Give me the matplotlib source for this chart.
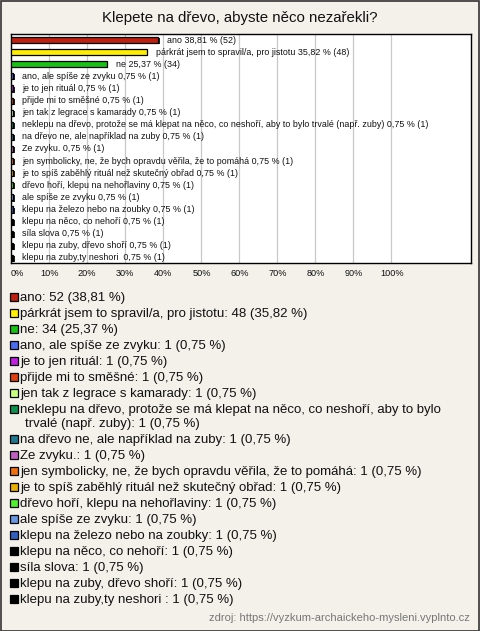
import matplotlib
matplotlib.use("Agg")
import matplotlib.pyplot as plt
from matplotlib.patches import Rectangle
import textwrap

plt.rcParams['font.family'] = ['Liberation Sans', 'DejaVu Sans']

title = "Klepete na dřevo, abyste něco nezařekli?"
categories = [
    "ano",
    "párkrát jsem to spravil/a, pro jistotu",
    "ne",
    "ano, ale spíše ze zvyku",
    "je to jen rituál",
    "přijde mi to směšné",
    "jen tak z legrace s kamarady",
    "neklepu na dřevo, protože se má klepat na něco, co neshoří, aby to bylo trvalé (např. zuby)",
    "na dřevo ne, ale například na zuby",
    "Ze zvyku.",
    "jen symbolicky, ne, že bych opravdu věřila, že to pomáhá",
    "je to spíš zaběhlý rituál než skutečný obřad",
    "dřevo hoří, klepu na nehořlaviny",
    "ale spíše ze zvyku",
    "klepu na železo nebo na zoubky",
    "klepu na něco, co nehoří",
    "síla slova",
    "klepu na zuby, dřevo shoří",
    "klepu na zuby,ty neshori ",
]
counts = [52, 48, 34, 1, 1, 1, 1, 1, 1, 1, 1, 1, 1, 1, 1, 1, 1, 1, 1]
percents = [38.81, 35.82, 25.37, 0.75, 0.75, 0.75, 0.75, 0.75, 0.75, 0.75,
            0.75, 0.75, 0.75, 0.75, 0.75, 0.75, 0.75, 0.75, 0.75]
colors = ["#c02010", "#ffee00", "#18c018", "#4a6cf0", "#c020e0", "#e04010",
          "#c8ff80", "#109050", "#207890", "#c060c0", "#f07010", "#e8b000",
          "#50f030", "#6898e0", "#3060c0", "#000000", "#000000", "#000000", "#000000"]
xticks = [0, 10, 20, 30, 40, 50, 60, 70, 80, 90, 100]
source = "zdroj: https://vyzkum-archaickeho-mysleni.vyplnto.cz"

def fmt(p):
    return f"{p:.2f}".replace(".", ",")

W, H = 480, 631
fig = plt.figure(figsize=(W / 100, H / 100), dpi=100)
fig.patch.set_facecolor("#f3f1ea")
fig.patches.append(Rectangle((0.5 / W, 0.5 / H), 1 - 1.5 / W, 1 - 1.5 / H,
                             transform=fig.transFigure, fill=False,
                             edgecolor="#333333", linewidth=1.2))

fig.text(240 / W, 1 - 18 / H, title, ha="center", va="center", fontsize=10.8, color="#111111")

# axes box
ax_l, ax_r, ax_t, ax_b = 10.5, 471, 34, 263
ax = fig.add_axes([ax_l / W, 1 - ax_b / H, (ax_r - ax_l) / W, (ax_b - ax_t) / H])
ax.set_facecolor("white")
px_per_pct = 3.81
xmax = (ax_r - ax_l) / px_per_pct
ax.set_xlim(0, xmax)
n = len(categories)
ax.set_ylim(n - 1 + 0.42, -0.5)
for s in ax.spines.values():
    s.set_edgecolor("#000000")
    s.set_linewidth(1)
for t in xticks[1:]:
    ax.axvline(t, color="#c8c8c8", linewidth=0.9, zorder=0)

ys = list(range(n))
ax.barh([y + 0.09 for y in ys], percents, left=0.35, height=0.5, color="#222222", zorder=2)
ax.barh(ys, percents, height=0.5, color=colors, edgecolor="#000000", linewidth=0.9, zorder=3)
for y, cat, p, c in zip(ys, categories, percents, counts):
    ax.annotate(f"{cat} {fmt(p)} % ({c})", xy=(p, y), xytext=(6.5, 0),
                textcoords="offset points", ha="left", va="center",
                fontsize=6.4, color="#111111", zorder=4)
ax.set_xticks([])
ax.set_yticks([])

# x tick labels
for t in xticks:
    x = (ax_l + 0.5 + t * px_per_pct) / W
    fig.text(x, 1 - 273 / H, f"{t}%", ha="left" if t == 0 else "center",
             va="center", fontsize=6.6, color="#111111")

# legend
y = 297
for cat, c, p, col in zip(categories, counts, percents, colors):
    label = f"{cat}: {c} ({fmt(p)} %)"
    lines = textwrap.wrap(label, 72)
    fig.patches.append(Rectangle((10 / W, 1 - (y + 4) / H), 8 / W, 8 / H,
                                 transform=fig.transFigure, facecolor=col,
                                 edgecolor="#000000", linewidth=0.9))
    for i, line in enumerate(lines):
        fig.text((20 if i == 0 else 25) / W, 1 - (y + 4.5) / H, line, ha="left",
                 va="baseline", fontsize=9.5, color="#111111")
        if i < len(lines) - 1:
            y += 14
    y += 16

fig.text(470 / W, 1 - 618 / H, source, ha="right", va="center", fontsize=8, color="#777777")

fig.savefig("out.png", dpi=100, facecolor=fig.get_facecolor())
